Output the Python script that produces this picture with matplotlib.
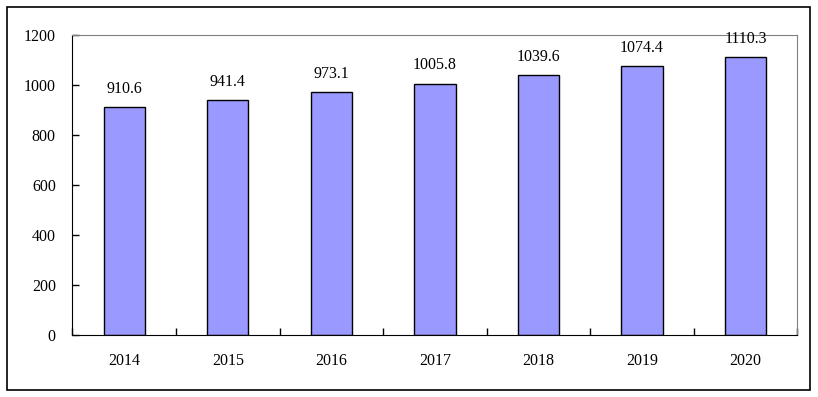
import matplotlib.pyplot as plt
from matplotlib.patches import Rectangle
import numpy as np

# Data
years = ['2014', '2015', '2016', '2017', '2018', '2019', '2020']
values = [910.6, 941.4, 973.1, 1005.8, 1039.6, 1074.4, 1110.3]
yticks = [0, 200, 400, 600, 800, 1000, 1200]

plt.rcParams['font.family'] = ['Liberation Serif', 'DejaVu Serif']
plt.rcParams['font.size'] = 11.5

fig = plt.figure(figsize=(8.18, 3.97), dpi=100)
ax = fig.add_axes((0.0886, 0.156, 0.886, 0.756))

x = np.arange(len(years))
bars = ax.bar(x, values, width=0.40, color='#9999FF', edgecolor='black', linewidth=1.0)

for bar, v in zip(bars, values):
    ax.annotate(f'{v:.1f}', (bar.get_x() + bar.get_width() / 2, bar.get_height()),
                xytext=(0, 13), textcoords='offset points', ha='center', va='center')

ax.set_xlim(-0.5, len(years) - 0.5)
ax.set_ylim(0, 1200)
ax.set_yticks(yticks)

# labels centred under the bars, tick marks between categories
ax.set_xticks(x)
ax.set_xticklabels(years)
ax.set_xticks(np.arange(len(years) + 1) - 0.5, minor=True)
ax.tick_params(axis='x', which='major', length=0, pad=13)
ax.tick_params(axis='x', which='minor', direction='in', length=5, width=1)
ax.tick_params(axis='y', direction='in', length=5, width=1, pad=12)

for side in ['top', 'right']:
    ax.spines[side].set_color('#808080')
for side in ['left', 'bottom']:
    ax.spines[side].set_color('black')

# outer frame around the whole chart
fig.patches.append(Rectangle((0.0086, 0.0176), 0.9814, 0.9644, transform=fig.transFigure,
                             fill=False, edgecolor='black', linewidth=1.2))

fig.savefig('out.png', dpi=100)
